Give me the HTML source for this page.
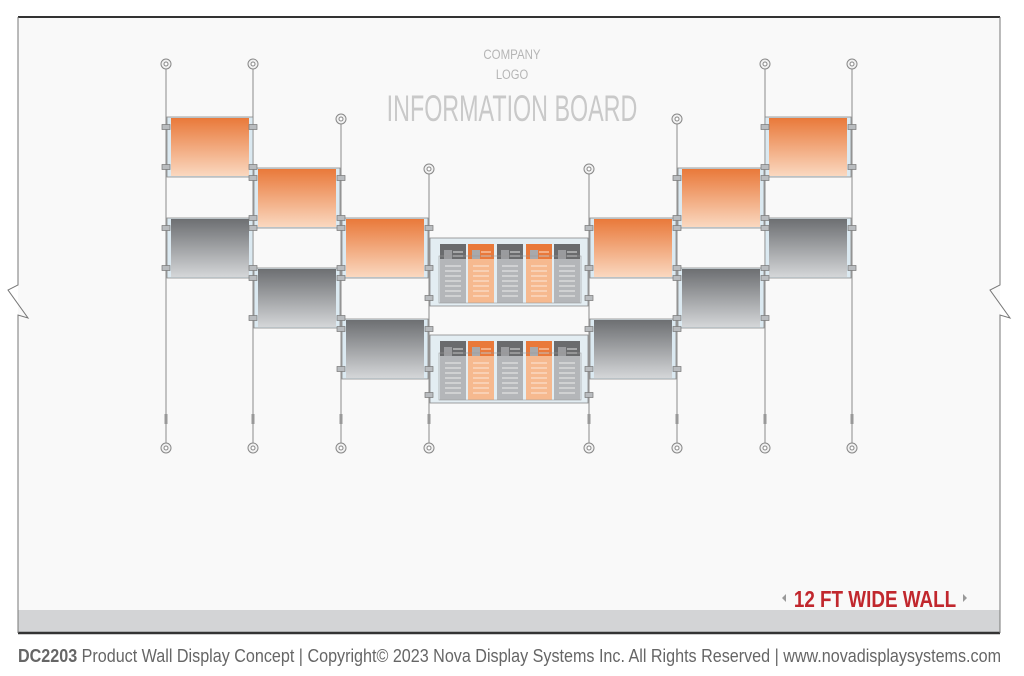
<!DOCTYPE html>
<html><head><meta charset="utf-8"><style>
html,body{margin:0;padding:0;background:#fff;width:1024px;height:676px;overflow:hidden}
svg{display:block}
text{font-family:"Liberation Sans",sans-serif}
</style></head><body>
<svg width="1024" height="676" viewBox="0 0 1024 676" xmlns="http://www.w3.org/2000/svg">
<defs>
<linearGradient id="og" x1="0" y1="0" x2="0" y2="1"><stop offset="0" stop-color="#e9793a"/><stop offset="1" stop-color="#fad8c0"/></linearGradient>
<linearGradient id="gg" x1="0" y1="0" x2="0" y2="1"><stop offset="0" stop-color="#6d6f72"/><stop offset="1" stop-color="#d4d6d8"/></linearGradient>
<g id="cap"><circle r="5" fill="#f2f2f2" stroke="#888" stroke-width="1"/><circle r="2" fill="#fff" stroke="#888" stroke-width="1"/></g>
<g id="clip"><rect x="-4" y="-2.5" width="8" height="5" fill="#b9bcbf" stroke="#777" stroke-width=".7"/></g>
<g id="po">
<rect x="0" y="0" width="86" height="60" fill="#dbe9f1" stroke="#888" stroke-width=".8"/>
<rect x="4" y="1" width="78" height="58" fill="url(#og)"/>
</g>
<g id="pg">
<rect x="0" y="0" width="86" height="60" fill="#dbe9f1" stroke="#888" stroke-width=".8"/>
<rect x="4" y="1" width="78" height="58" fill="url(#gg)"/>
</g>
<g id="pkd"><rect x="0" y="0" width="26" height="17" fill="#6a6b6d"/><rect x="4" y="6" width="8" height="14" fill="#9a9b9e"/><g stroke="#cfcfcf" stroke-width="1.2"><line x1="13" y1="8" x2="23" y2="8"/><line x1="13" y1="12" x2="23" y2="12"/><line x1="13" y1="16" x2="23" y2="16"/></g><rect x="0" y="15" width="26" height="44" fill="#b4b6b9"/><g stroke="#e2e3e4" stroke-width="1.2"><line x1="5" y1="22" x2="21" y2="22"/><line x1="5" y1="27" x2="21" y2="27"/><line x1="5" y1="32" x2="21" y2="32"/><line x1="5" y1="37" x2="21" y2="37"/><line x1="5" y1="42" x2="21" y2="42"/><line x1="5" y1="47" x2="21" y2="47"/><line x1="5" y1="52" x2="21" y2="52"/></g></g>
<g id="pko"><rect x="0" y="0" width="26" height="17" fill="#e9793a"/><rect x="4" y="6" width="8" height="14" fill="#a8a9ab"/><g stroke="#fbd2b6" stroke-width="1.2"><line x1="13" y1="8" x2="23" y2="8"/><line x1="13" y1="12" x2="23" y2="12"/><line x1="13" y1="16" x2="23" y2="16"/></g><rect x="0" y="15" width="26" height="44" fill="#f6b98f"/><g stroke="#fbe0cc" stroke-width="1.2"><line x1="5" y1="22" x2="21" y2="22"/><line x1="5" y1="27" x2="21" y2="27"/><line x1="5" y1="32" x2="21" y2="32"/><line x1="5" y1="37" x2="21" y2="37"/><line x1="5" y1="42" x2="21" y2="42"/><line x1="5" y1="47" x2="21" y2="47"/><line x1="5" y1="52" x2="21" y2="52"/></g></g>
<g id="bh">
<rect x="0" y="0" width="158" height="68" fill="#e3edf2" stroke="#888" stroke-width=".8"/>
<use href="#pkd" x="10" y="6"/><use href="#pko" x="38" y="6"/><use href="#pkd" x="67" y="6"/><use href="#pko" x="96" y="6"/><use href="#pkd" x="124" y="6"/>
<rect x="9" y="18" width="142" height="47" fill="none" stroke="#999" stroke-width=".6"/>
</g>
</defs>
<rect x="18" y="17" width="982" height="593" fill="#f9f9f9"/>
<rect x="18" y="610" width="982" height="22" fill="#d3d4d6"/>
<line x1="18" y1="17" x2="1000" y2="17" stroke="#333" stroke-width="2"/>
<line x1="18" y1="633" x2="1000" y2="633" stroke="#333" stroke-width="2.5"/>
<polyline points="18,17 18,285 8,290 28,318 18,315 18,633" fill="none" stroke="#777" stroke-width="1"/>
<polyline points="1000,17 1000,285 990,290 1010,318 1000,315 1000,633" fill="none" stroke="#777" stroke-width="1"/>
<text x="512" y="59" font-size="14" fill="#b5b5b5" text-anchor="middle" transform="translate(512,0) scale(0.82,1) translate(-512,0)">COMPANY</text>
<text x="512" y="79" font-size="14" fill="#b5b5b5" text-anchor="middle" transform="translate(512,0) scale(0.8,1) translate(-512,0)">LOGO</text>
<text x="512" y="121" font-size="37" fill="#c9c9c9" text-anchor="middle" transform="translate(512,0) scale(0.63,1) translate(-512,0)">INFORMATION BOARD</text>
<g stroke="#8a8a8a" stroke-width="1">
<line x1="166" y1="64" x2="166" y2="448"/><line x1="253" y1="64" x2="253" y2="448"/><line x1="341" y1="119" x2="341" y2="448"/><line x1="429" y1="169" x2="429" y2="448"/>
<line x1="589" y1="169" x2="589" y2="448"/><line x1="677" y1="119" x2="677" y2="448"/><line x1="765" y1="64" x2="765" y2="448"/><line x1="852" y1="64" x2="852" y2="448"/>
</g>
<g>
<use href="#cap" x="166" y="64"/><use href="#cap" x="253" y="64"/><use href="#cap" x="341" y="119"/><use href="#cap" x="429" y="169"/>
<use href="#cap" x="589" y="169"/><use href="#cap" x="677" y="119"/><use href="#cap" x="765" y="64"/><use href="#cap" x="852" y="64"/>
<use href="#cap" x="166" y="448"/><use href="#cap" x="253" y="448"/><use href="#cap" x="341" y="448"/><use href="#cap" x="429" y="448"/>
<use href="#cap" x="589" y="448"/><use href="#cap" x="677" y="448"/><use href="#cap" x="765" y="448"/><use href="#cap" x="852" y="448"/>
</g>
<g fill="#999"><rect x="164.5" y="414" width="3" height="10"/><rect x="251.5" y="414" width="3" height="10"/><rect x="339.5" y="414" width="3" height="10"/><rect x="427.5" y="414" width="3" height="10"/><rect x="587.5" y="414" width="3" height="10"/><rect x="675.5" y="414" width="3" height="10"/><rect x="763.5" y="414" width="3" height="10"/><rect x="850.5" y="414" width="3" height="10"/></g>
<use href="#po" x="167" y="117"/><use href="#pg" x="167" y="218"/>
<use href="#po" x="254" y="168"/><use href="#pg" x="254" y="268"/>
<use href="#po" x="342" y="218"/><use href="#pg" x="342" y="319"/>
<use href="#po" x="590" y="218"/><use href="#pg" x="590" y="319"/>
<use href="#po" x="678" y="168"/><use href="#pg" x="678" y="268"/>
<use href="#po" x="765" y="117"/><use href="#pg" x="765" y="218"/>
<use href="#bh" x="430" y="238"/><use href="#bh" x="430" y="335"/>
<g>
<use href="#clip" x="166" y="127"/><use href="#clip" x="166" y="167"/><use href="#clip" x="253" y="127"/><use href="#clip" x="253" y="167"/>
<use href="#clip" x="166" y="228"/><use href="#clip" x="166" y="268"/><use href="#clip" x="253" y="228"/><use href="#clip" x="253" y="268"/>
<use href="#clip" x="253" y="178"/><use href="#clip" x="253" y="218"/><use href="#clip" x="341" y="178"/><use href="#clip" x="341" y="218"/>
<use href="#clip" x="253" y="278"/><use href="#clip" x="253" y="318"/><use href="#clip" x="341" y="278"/><use href="#clip" x="341" y="318"/>
<use href="#clip" x="341" y="228"/><use href="#clip" x="341" y="268"/><use href="#clip" x="429" y="228"/><use href="#clip" x="429" y="268"/>
<use href="#clip" x="341" y="329"/><use href="#clip" x="341" y="369"/><use href="#clip" x="429" y="329"/><use href="#clip" x="429" y="369"/>
<use href="#clip" x="429" y="298"/><use href="#clip" x="429" y="395"/>
<use href="#clip" x="589" y="228"/><use href="#clip" x="589" y="268"/><use href="#clip" x="677" y="228"/><use href="#clip" x="677" y="268"/>
<use href="#clip" x="589" y="329"/><use href="#clip" x="589" y="369"/><use href="#clip" x="677" y="329"/><use href="#clip" x="677" y="369"/>
<use href="#clip" x="589" y="298"/><use href="#clip" x="589" y="395"/>
<use href="#clip" x="677" y="178"/><use href="#clip" x="677" y="218"/><use href="#clip" x="765" y="178"/><use href="#clip" x="765" y="218"/>
<use href="#clip" x="677" y="278"/><use href="#clip" x="677" y="318"/><use href="#clip" x="765" y="278"/><use href="#clip" x="765" y="318"/>
<use href="#clip" x="765" y="127"/><use href="#clip" x="765" y="167"/><use href="#clip" x="852" y="127"/><use href="#clip" x="852" y="167"/>
<use href="#clip" x="765" y="228"/><use href="#clip" x="765" y="268"/><use href="#clip" x="852" y="228"/><use href="#clip" x="852" y="268"/>
</g>
<polygon points="786,594 782,598 786,602" fill="#999"/>
<polygon points="963,594 967,598 963,602" fill="#999"/>
<text x="875" y="607" font-size="23" font-weight="bold" fill="#c1272d" text-anchor="middle" transform="translate(875,0) scale(0.82,1) translate(-875,0)">12 FT WIDE WALL</text>
<text x="18" y="662" font-size="18" fill="#666" textLength="983" lengthAdjust="spacingAndGlyphs"><tspan font-weight="bold">DC2203</tspan> Product Wall Display Concept | Copyright© 2023 Nova Display Systems Inc. All Rights Reserved | www.novadisplaysystems.com</text>
</svg>
</body></html>
